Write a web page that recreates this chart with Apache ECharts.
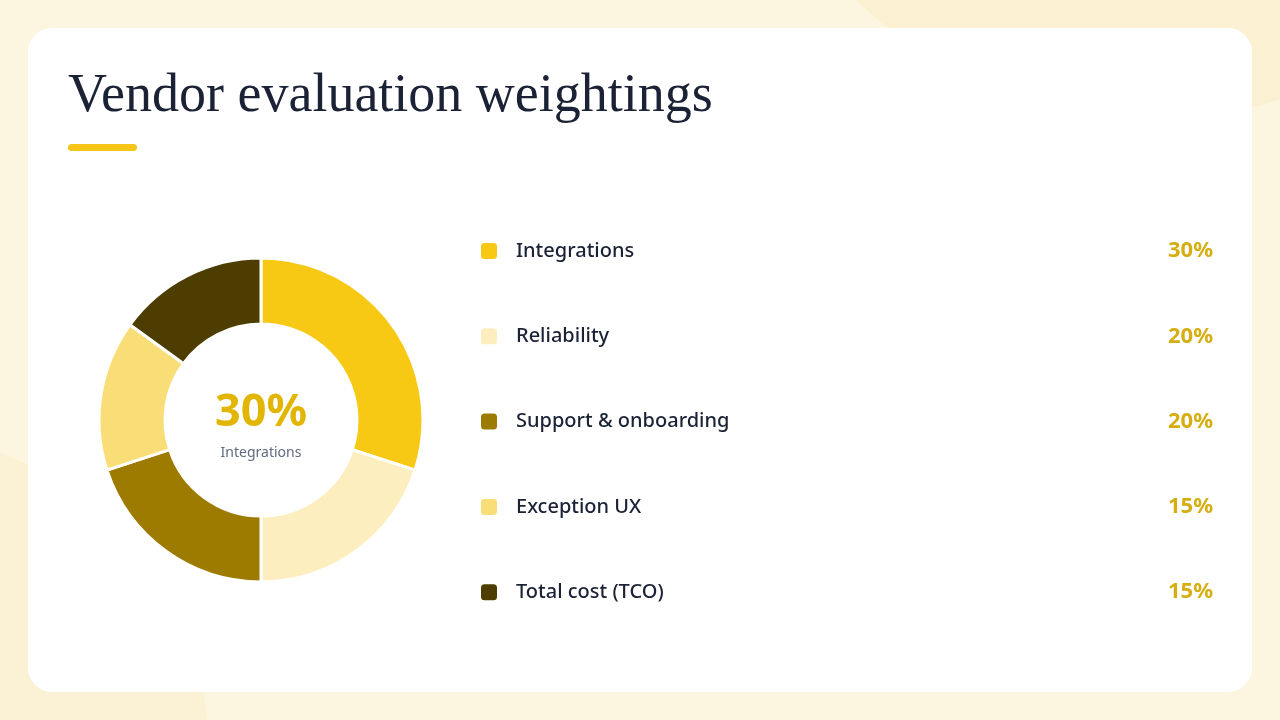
<!DOCTYPE html>
<html>
<head>
<meta charset="utf-8">
<script src="https://cdn.jsdelivr.net/npm/echarts@6/dist/echarts.min.js"></script>
<style>
html, body { margin: 0; padding: 0; background: #fcf5df; }
#main { width: 1280px; height: 720px; }
</style>
</head>
<body>
<div id="main"></div>
<script>
// 数据
var categories = ['Integrations', 'Reliability', 'Support & onboarding', 'Exception UX', 'Total cost (TCO)'];
var weights = [30, 20, 20, 15, 15];
var sliceColors = ['#f7c915', '#fdeebf', '#9c7b00', '#f9de78', '#4d3d00'];

var titleText = 'Vendor evaluation weightings';

var pieData = [];
for(var i = 0; i < categories.length; i++) {
	pieData.push({
		name: categories[i],
		value: weights[i],
		itemStyle: { color: sliceColors[i] }
	});
}

function valueOf(name) {
	var idx = categories.indexOf(name);
	return weights[idx] + '%';
}

var bodyFont = '"Noto Sans", Lato, sans-serif';

var option = {
	animation: false,
	graphic: [
		// 背景色块
		{ type: 'circle', shape: { cx: 1150, cy: -300, r: 420 }, style: { fill: '#fbf1d2' }, z: 0 },
		{ type: 'circle', shape: { cx: -120, cy: 760, r: 330 }, style: { fill: '#fbf1d4' }, z: 0 },
		// 卡片
		{
			type: 'rect',
			shape: { x: 28, y: 28, width: 1224, height: 664, r: 24 },
			style: { fill: '#ffffff' },
			z: 1
		},
		{
			type: 'text',
			left: 68,
			top: 70,
			z: 2,
			style: {
				text: titleText,
				fill: '#1b2236',
				font: '400 54px "Liberation Serif", "DejaVu Serif", serif'
			}
		},
		{
			type: 'rect',
			shape: { x: 68, y: 144, width: 69, height: 7, r: 3.5 },
			style: { fill: '#f5c518' },
			z: 2
		},
		// 中心文字
		{
			type: 'text',
			x: 261,
			y: 413,
			z: 3,
			style: {
				text: weights[0] + '%',
				fill: '#e1b500',
				font: '700 45px ' + bodyFont,
				align: 'center',
				verticalAlign: 'middle'
			}
		},
		{
			type: 'text',
			x: 261,
			y: 453,
			z: 3,
			style: {
				text: categories[0],
				fill: '#5d6a80',
				font: '400 14px ' + bodyFont,
				align: 'center',
				verticalAlign: 'middle'
			}
		}
	],
	legend: {
		orient: 'vertical',
		left: 479,
		top: 240,
		padding: 0,
		itemWidth: 18,
		itemHeight: 18,
		itemGap: 63.3,
		icon: 'roundRect',
		selectedMode: false,
		data: categories,
		formatter: function(name) {
			return '{name|' + name + '}{val|' + valueOf(name) + '}';
		},
		textStyle: {
			rich: {
				name: {
					width: 600,
					padding: [0, 0, 0, 13],
					fontFamily: bodyFont,
					fontWeight: 500,
					fontSize: 20,
					lineHeight: 24,
					color: '#1b2236'
				},
				val: {
					width: 97,
					align: 'right',
					fontFamily: bodyFont,
					fontWeight: 700,
					fontSize: 22,
					lineHeight: 24,
					color: '#d6ae12'
				}
			}
		}
	},
	series: [{
		type: 'pie',
		center: [261, 420],
		radius: [96, 162],
		startAngle: 90,
		clockwise: true,
		silent: true,
		z: 2,
		label: { show: false },
		labelLine: { show: false },
		itemStyle: {
			borderColor: '#ffffff',
			borderWidth: 3
		},
		data: pieData
	}]
};

var chart = echarts.init(document.getElementById('main'));
chart.setOption(option);
</script>
</body>
</html>
